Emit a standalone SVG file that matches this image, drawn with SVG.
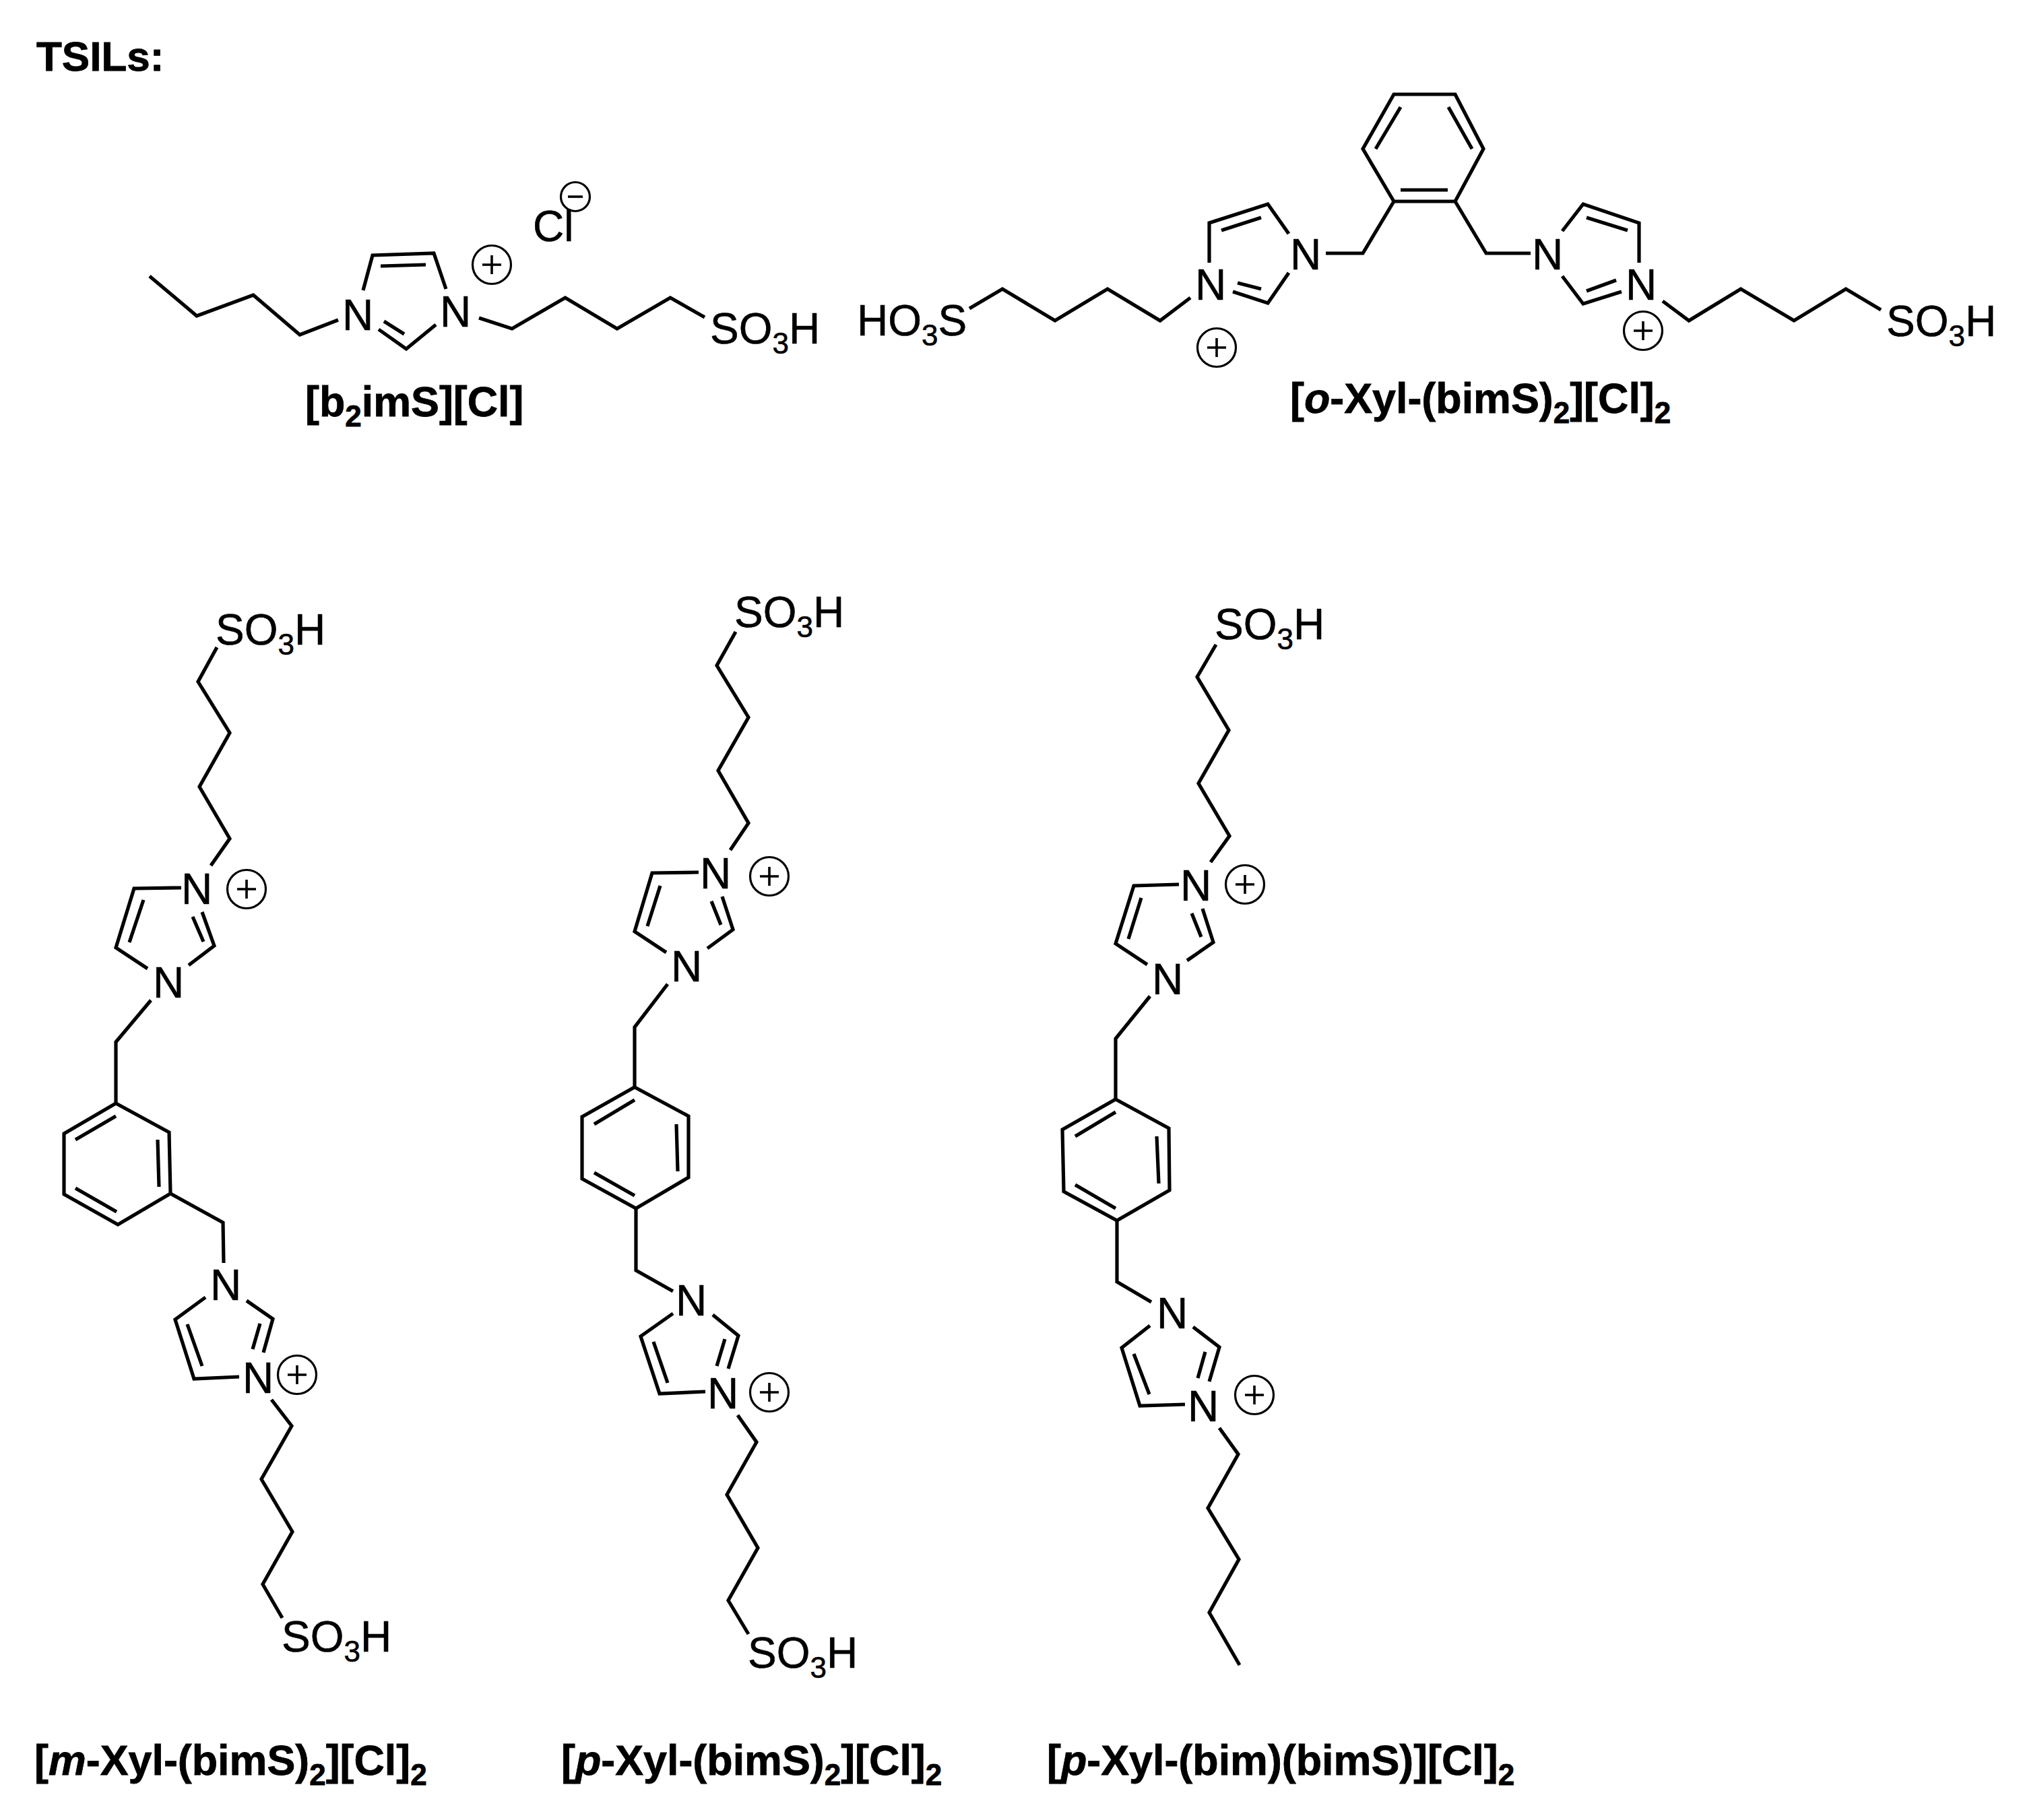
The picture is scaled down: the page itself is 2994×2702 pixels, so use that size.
<svg xmlns="http://www.w3.org/2000/svg" width="2994" height="2702" viewBox="0 0 2994 2702">
<style>
text{font-family:"Liberation Sans",Arial,sans-serif;font-size:64px;fill:#000;stroke:#000;stroke-width:.6}
.t{font-size:62px;font-weight:bold;stroke-width:.8}
.b{font-size:62.8px;font-weight:bold;stroke-width:.8}
.i{font-style:italic}
.s{font-size:44px}
.bonds path{fill:none;stroke:#000;stroke-width:5.2;stroke-linejoin:miter;stroke-linecap:butt}
.ch circle{fill:none;stroke:#000;stroke-width:3.2}
.ch path{fill:none;stroke:#000;stroke-width:3.6}
</style>
<defs>
<g id="plus" class="ch"><circle r="28.5"/><path d="M-14 0H14M0-14V14"/></g>
<g id="minus" class="ch"><circle r="21.5"/><path d="M-11 0H11" stroke-width="4"/></g>
</defs>
<rect width="2994" height="2702" fill="#fff"/>
<text id="title" class="t" x="54" y="105">TSILs:</text>

<g id="mol-b2imS">
<g class="bonds"><path d="M222 410L292 469L376 438L445 497L502 475"/>
<path d="M539 431L553 379L644 376L662 429M565 395L632 393M562 489L603 518L647 482M570 477L600 496"/>
<path d="M711 472L760 488L839 442L916 488L995 442L1046 471"/></g>
<text x="508" y="490">N</text><text x="653" y="485">N</text>
<text x="1054" y="510">SO<tspan class="s" dy="15">3</tspan><tspan dy="-15">H</tspan></text>
<use href="#plus" x="730" y="393"/>
<text x="791" y="358">Cl</text>
<use href="#minus" x="854" y="292"/>
<text class="b" x="453" y="618">[b<tspan class="s" dy="15">2</tspan><tspan dy="-15">imS][Cl]</tspan></text>
</g>

<g id="mol-o-Xyl">
<g class="bonds"><path d="M2069 140H2160L2202 221L2160 299H2069L2023 221ZM2079 159L2042 221M2150 159L2185 221M2079 282H2149"/>
<path d="M2069 299L2023 376H1968M2160 299L2206 376H2272"/>
<path d="M1913 347L1882 303L1795 331V390M1872 323L1813 342M1913 405L1882 450L1830 433M1872 429L1837 420"/>
<path d="M1767 442L1722 476L1644 429L1566 476L1488 429L1439 458"/>
<path d="M2319 343L2350 303L2433 331V390M2355 323L2416 342M2319 410L2350 451L2407 433M2355 432L2399 416"/>
<path d="M2468 447L2507 476L2584 429L2663 476L2740 429L2792 460"/></g>
<text x="1915" y="400">N</text><text x="1774" y="445">N</text><text x="2274" y="400">N</text><text x="2413" y="445">N</text>
<text x="1272" y="498">HO<tspan class="s" dy="15">3</tspan><tspan dy="-15">S</tspan></text>
<text x="2800" y="499">SO<tspan class="s" dy="15">3</tspan><tspan dy="-15">H</tspan></text>
<use href="#plus" x="1806" y="516"/><use href="#plus" x="2439" y="491"/>
<text class="b" x="1915" y="613">[<tspan class="i">o</tspan>-Xyl-(bimS)<tspan class="s" dy="15">2</tspan><tspan dy="-15">][Cl]</tspan><tspan class="s" dy="15">2</tspan></text>
</g>

<g id="mol-m-Xyl">
<g class="bonds"><path d="M322 961L294 1012L341 1088L296 1168L341 1245L313 1285"/>
<path d="M269 1318L199 1319L172 1407L219 1438M213 1336L192 1399M300 1354L318 1404L280 1433M286 1361L302 1398"/>
<path d="M224 1485L172 1547V1638"/>
<path d="M172 1638L251 1681L253 1772L175 1818L95 1773V1683ZM172 1657L112 1692M234 1692L236 1762M112 1764L173 1799"/>
<path d="M253 1772L331 1815L332 1875"/>
<path d="M305 1926L260 1959L288 2047L355 2044M278 1966L300 2028M366 1931L405 1958L391 2008M386 1965L375 2003"/>
<path d="M403 2078L433 2117L388 2196L434 2274L390 2352L419 2402"/></g>
<text x="320" y="957">SO<tspan class="s" dy="15">3</tspan><tspan dy="-15">H</tspan></text>
<text x="269" y="1342">N</text><text x="227" y="1481">N</text><text x="312" y="1930">N</text><text x="360" y="2068">N</text>
<use href="#plus" x="366" y="1320"/><use href="#plus" x="441" y="2041"/>
<text x="418" y="2452">SO<tspan class="s" dy="15">3</tspan><tspan dy="-15">H</tspan></text>
<text class="b" x="51" y="2635">[<tspan class="i">m</tspan>-Xyl-(bimS)<tspan class="s" dy="15">2</tspan><tspan dy="-15">][Cl]</tspan><tspan class="s" dy="15">2</tspan></text>
</g>

<g id="mol-p-Xyl">
<g class="bonds"><path d="M1092 938L1064 988L1111 1065L1066 1144L1111 1222L1084 1262"/>
<path d="M1037 1295L968 1296L942 1383L989 1414M980 1315L961 1375M1072 1331L1088 1380L1050 1408M1056 1338L1070 1373"/>
<path d="M991 1461L942 1525V1614"/>
<path d="M942 1614L1022 1657V1748L944 1794L864 1750V1658ZM942 1633L882 1669M1004 1669L1006 1739M882 1741L942 1775"/>
<path d="M944 1794V1886L999 1917"/>
<path d="M999 1950L951 1984L979 2069L1047 2066M970 1992L991 2053M1058 1952L1096 1983L1081 2032M1076 1988L1064 2028"/>
<path d="M1095 2101L1123 2141L1079 2219L1125 2298L1081 2376L1111 2426"/></g>
<text x="1090" y="931">SO<tspan class="s" dy="15">3</tspan><tspan dy="-15">H</tspan></text>
<text x="1039" y="1319">N</text><text x="996" y="1457">N</text><text x="1003" y="1953">N</text><text x="1050" y="2091">N</text>
<use href="#plus" x="1142" y="1301"/><use href="#plus" x="1142" y="2067"/>
<text x="1110" y="2476">SO<tspan class="s" dy="15">3</tspan><tspan dy="-15">H</tspan></text>
<text class="b" x="833" y="2635">[<tspan class="i">p</tspan>-Xyl-(bimS)<tspan class="s" dy="15">2</tspan><tspan dy="-15">][Cl]</tspan><tspan class="s" dy="15">2</tspan></text>
</g>

<g id="mol-p-Xyl-bim">
<g class="bonds"><path d="M1805 957L1777 1005L1824 1084L1779 1163L1825 1241L1797 1280"/>
<path d="M1750 1313L1683 1315L1656 1401L1703 1432M1694 1333L1675 1394M1785 1349L1801 1399L1762 1426M1769 1356L1783 1391"/>
<path d="M1707 1479L1656 1542V1632"/>
<path d="M1656 1632L1735 1675L1736 1767L1658 1812L1579 1769L1577 1677ZM1656 1651L1596 1687M1717 1687L1720 1757M1596 1759L1656 1794"/>
<path d="M1658 1812V1903L1709 1933"/>
<path d="M1707 1968L1665 2001L1692 2087L1759 2085M1683 2010L1706 2070M1771 1970L1810 2000L1795 2051M1789 2007L1778 2046"/>
<path d="M1810 2120L1838 2159L1793 2239L1839 2315L1795 2394L1840 2472"/></g>
<text x="1803" y="949">SO<tspan class="s" dy="15">3</tspan><tspan dy="-15">H</tspan></text>
<text x="1752" y="1337">N</text><text x="1710" y="1476">N</text><text x="1717" y="1972">N</text><text x="1763" y="2110">N</text>
<use href="#plus" x="1848" y="1313"/><use href="#plus" x="1862" y="2071"/>
<text class="b" x="1554" y="2635">[<tspan class="i">p</tspan>-Xyl-(bim)(bimS)][Cl]<tspan class="s" dy="15">2</tspan></text>
</g>
</svg>
